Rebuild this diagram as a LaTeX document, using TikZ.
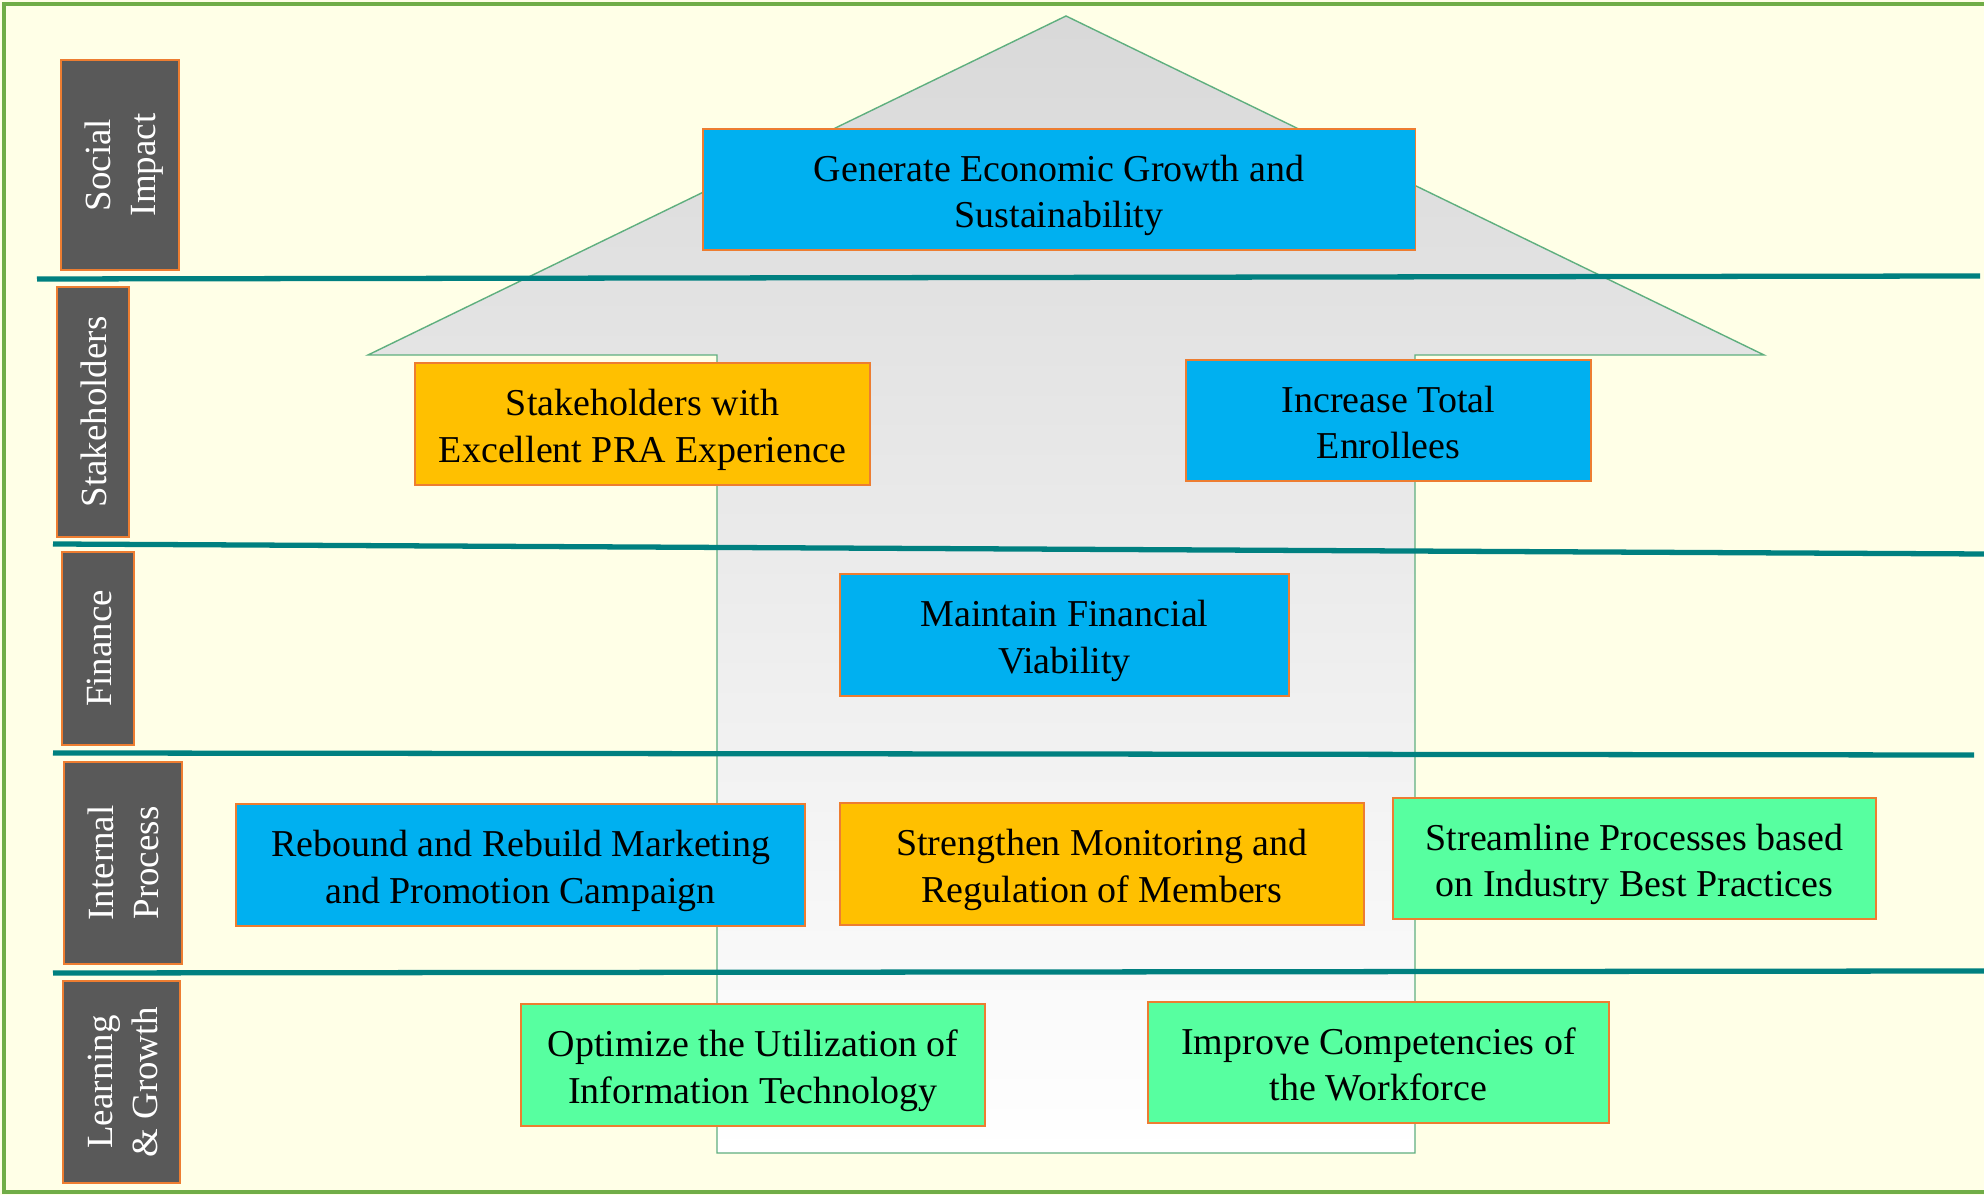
\documentclass[tikz,border=0pt]{standalone}
\usepackage{fontspec}
\setmainfont{Liberation Serif}
\definecolor{bgyellow}{HTML}{FFFFE7}
\definecolor{frame}{HTML}{70AD47}
\definecolor{tealline}{HTML}{008080}
\definecolor{houseline}{HTML}{5FAF7F}
\definecolor{lblgray}{HTML}{595959}
\definecolor{boxedge}{HTML}{ED7D31}
\definecolor{cblue}{HTML}{00B0F0}
\definecolor{corange}{HTML}{FFC000}
\definecolor{cgreen}{HTML}{57FFA0}
\newcommand{\goaltext}[2]{\begin{tabular}{@{}c@{}}\rule{0pt}{12.5pt}#1\\#2\end{tabular}}
\newcommand{\lanetext}[1]{\begin{tabular}{@{}c@{}}\rule{0pt}{11.4pt}#1\end{tabular}}
\tikzset{
  goalbox/.style={draw=boxedge, line width=0.4pt, inner sep=0pt,
    font=\fontsize{10.8}{13.3}\selectfont, text=black},
  lanelabel/.style={draw=boxedge, line width=0.4pt, fill=lblgray, text=white,
    inner sep=0pt, rotate=90, font=\fontsize{10.5}{12.8}\selectfont},
  divider/.style={draw=tealline, line width=1.5pt}
}
\begin{document}
\begin{tikzpicture}[x=0.01cm,y=-0.01cm]
\useasboundingbox (0,0) rectangle (1984,1195);
\begin{scope}
\clip (0,0) rectangle (1984,1195);
\fill[bgyellow] (0,0) rectangle (1984,1195);
\draw[frame, line width=0.9pt] (4,4) rectangle (2000,1192);
\end{scope}
% house
\shade[top color=black!15, bottom color=white, draw=houseline, line width=0.4pt]
  (1066,16) -- (1764,355) -- (1415,355) -- (1415,1153) -- (717,1153) -- (717,355) -- (368,355) -- cycle;
% dividers
\coordinate (d1a) at (37,279); \coordinate (d1b) at (1980,276);
\coordinate (d2a) at (53,544); \coordinate (d2b) at (1984,554);
\coordinate (d3a) at (53,753); \coordinate (d3b) at (1974,755);
\coordinate (d4a) at (53,973); \coordinate (d4b) at (1984,971);
\draw[divider] (d1a) -- (d1b);
\draw[divider] (d2a) -- (d2b);
\draw[divider] (d3a) -- (d3b);
\draw[divider] (d4a) -- (d4b);
% lane labels
\node[lanelabel, minimum width=2.10cm, minimum height=1.18cm] (social) at (120,165) {\lanetext{Social\\Impact}};
\node[lanelabel, minimum width=2.50cm, minimum height=0.72cm] (stakeh) at (93,412) {\lanetext{Stakeholders}};
\node[lanelabel, minimum width=1.93cm, minimum height=0.72cm] (finance) at (98,648.5) {\lanetext{Finance}};
\node[lanelabel, minimum width=2.02cm, minimum height=1.18cm] (internal) at (123,863) {\lanetext{Internal\\Process}};
\node[lanelabel, minimum width=2.02cm, minimum height=1.17cm] (learning) at (121.5,1082) {\lanetext{Learning\\\& Growth}};
% goals
\node[goalbox, fill=cblue, minimum width=7.12cm, minimum height=1.21cm] (gen) at (1059,189.5) {\goaltext{Generate Economic Growth and}{Sustainability}};
\node[goalbox, fill=corange, minimum width=4.55cm, minimum height=1.22cm] (stk) at (642.5,424) {\goaltext{Stakeholders with}{Excellent PRA Experience}};
\node[goalbox, fill=cblue, minimum width=4.05cm, minimum height=1.21cm] (enr) at (1388.5,420.5) {\goaltext{Increase Total}{Enrollees}};
\node[goalbox, fill=cblue, minimum width=4.49cm, minimum height=1.22cm] (fin) at (1064.5,635) {\goaltext{Maintain Financial}{Viability}};
\node[goalbox, fill=cblue, minimum width=5.69cm, minimum height=1.22cm] (reb) at (520.5,865) {\goaltext{Rebound and Rebuild Marketing}{and Promotion Campaign}};
\node[goalbox, fill=corange, minimum width=5.24cm, minimum height=1.22cm] (str) at (1102,864) {\goaltext{Strengthen Monitoring and}{Regulation of Members}};
\node[goalbox, fill=cgreen, minimum width=4.83cm, minimum height=1.21cm] (stl) at (1634.5,858.5) {\goaltext{Streamline Processes based}{on Industry Best Practices}};
\node[goalbox, fill=cgreen, minimum width=4.64cm, minimum height=1.22cm] (opt) at (753,1065) {\goaltext{Optimize the Utilization of}{Information Technology}};
\node[goalbox, fill=cgreen, minimum width=4.61cm, minimum height=1.21cm] (imp) at (1378.5,1062.5) {\goaltext{Improve Competencies of}{the Workforce}};
\end{tikzpicture}
\end{document}
